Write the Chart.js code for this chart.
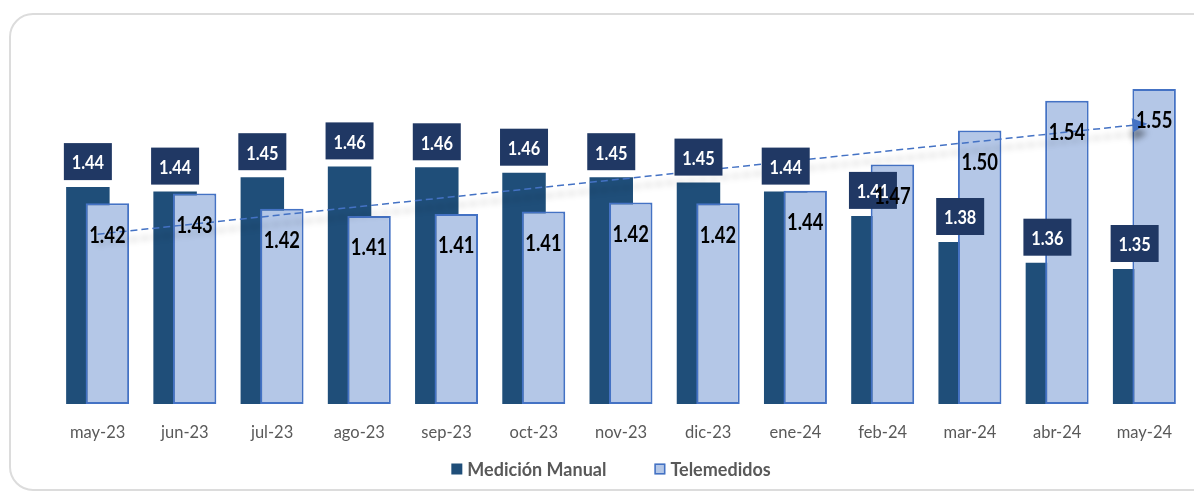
<!DOCTYPE html>
<html lang="es">
<head>
<meta charset="utf-8">
<title>Medición Manual vs Telemedidos</title>
<script src="https://cdn.jsdelivr.net/npm/chart.js@4.4.1/dist/chart.umd.min.js"></script>
<style>
    html, body { margin: 0; padding: 0; background: #fff; overflow: hidden; }
    .wrap { position: relative; width: 1194px; height: 492px; overflow: hidden; }
    .card { position: absolute; left: 9px; top: 13px; width: 1230px; height: 478px;
            border: 2px solid #dcdcdc; border-radius: 24px; box-sizing: border-box; }
    #grafico { position: absolute; left: 0; top: 0; }
</style>
</head>
<body>
<div class="wrap">
    <div class="card"></div>
    <canvas id="grafico" width="1194" height="492"></canvas>
</div>
<script>
    "use strict";

    // Datos
    const meses = ["may-23", "jun-23", "jul-23", "ago-23", "sep-23", "oct-23", "nov-23",
                   "dic-23", "ene-24", "feb-24", "mar-24", "abr-24", "may-24"];
    const manual = [1.441, 1.436, 1.452, 1.464, 1.463, 1.457, 1.452, 1.446, 1.436, 1.409, 1.380, 1.357, 1.350];
    const tele = [1.423, 1.434, 1.417, 1.409, 1.411, 1.414, 1.424, 1.423, 1.437, 1.466, 1.504, 1.537, 1.550];
    const series = ["Medición Manual", "Telemedidos"];

    // Colores
    const azulOscuro = "#1F4E79";
    const azulCaja = "#203864";
    const azulClaro = "#B4C7E7";
    const azulBorde = "#4472C4";
    const gris = "#595959";

    // Línea de tendencia (mínimos cuadrados sobre Telemedidos)
    function tendencia(valores) {
        var n = valores.length, sx = 0, sy = 0, sxy = 0, sxx = 0;
        valores.forEach(function (v, i) { sx += i; sy += v; sxy += i * v; sxx += i * i; });
        var m = (n * sxy - sx * sy) / (n * sxx - sx * sx);
        var b = (sy - m * sx) / n;
        return valores.map(function (v, i) { return b + m * i; });
    }
    const trend = tendencia(tele);

    // Texto comprimido horizontalmente, centrado en (x, y)
    function texto(ctx, t, x, y, size, color, sx) {
        ctx.save();
        ctx.translate(x, y + size * 0.36);
        ctx.scale(sx, 1);
        ctx.font = "bold " + size + "px Lato";
        ctx.fillStyle = color;
        ctx.textAlign = "center";
        ctx.textBaseline = "alphabetic";
        ctx.fillText(t, 0, 0);
        ctx.restore();
    }

    // Plugin: orden de dibujo, flecha, etiquetas y leyenda
    const extras = {
        id: "extras",
        beforeDatasetDraw: function (chart, args) {
            if (args.index === 1) return false; // Telemedidos va encima de Medición Manual
            if (args.index === 2) {
                var ctx = chart.ctx;
                ctx.save();
                ctx.shadowColor = "rgba(0, 0, 0, 0.38)";
                ctx.shadowBlur = 6;
                ctx.shadowOffsetY = 9;
            }
        },
        afterDatasetDraw: function (chart, args) {
            var ctx = chart.ctx;
            if (args.index === 0) {
                chart.getDatasetMeta(1).controller.draw();
            }
            if (args.index === 2) {
                var pts = args.meta.data;
                var a = pts[pts.length - 2], b = pts[pts.length - 1];
                var ang = Math.atan2(b.y - a.y, b.x - a.x);
                ctx.translate(b.x, b.y);
                ctx.rotate(ang);
                ctx.beginPath();
                ctx.moveTo(3, 0);
                ctx.lineTo(-12, -7);
                ctx.lineTo(-12, 7);
                ctx.closePath();
                ctx.fillStyle = azulBorde;
                ctx.fill();
                ctx.restore();
            }
        },
        afterDatasetsDraw: function (chart) {
            var ctx = chart.ctx;
            var mMeta = chart.getDatasetMeta(0);
            var tMeta = chart.getDatasetMeta(1);

            // Cajas de Medición Manual
            mMeta.data.forEach(function (bar, i) {
                var bw = 48, bh = 37;
                var top = bar.y - 7 - bh;
                ctx.fillStyle = azulCaja;
                ctx.fillRect(bar.x - bw / 2, top, bw, bh);
                texto(ctx, manual[i].toFixed(2), bar.x, top + bh / 2 + 1, 19, "#fff", 0.86);
            });

            // Valores de Telemedidos
            tMeta.data.forEach(function (bar, i) {
                texto(ctx, tele[i].toFixed(2), bar.x, bar.y + 31, 23, "#000", 0.8);
            });

            // Leyenda
            ctx.save();
            ctx.font = "bold 18px Lato";
            ctx.textBaseline = "alphabetic";
            ctx.textAlign = "left";
            var caja = 11, sep = 5, hueco = 48;
            var anchos = series.map(function (s) { return ctx.measureText(s).width; });
            var total = caja * 2 + sep * 2 + anchos[0] + anchos[1] + hueco;
            var x = 611 - total / 2;
            series.forEach(function (s, i) {
                if (i === 0) {
                    ctx.fillStyle = azulOscuro;
                    ctx.fillRect(x, 463.5, caja, caja);
                } else {
                    ctx.fillStyle = azulClaro;
                    ctx.fillRect(x, 463.5, caja, caja);
                    ctx.strokeStyle = azulBorde;
                    ctx.lineWidth = 1.5;
                    ctx.strokeRect(x + 0.75, 464.25, caja - 1.5, caja - 1.5);
                }
                ctx.fillStyle = gris;
                ctx.fillText(s, x + caja + sep, 476);
                x += caja + sep + anchos[i] + hueco;
            });
            ctx.restore();
        }
    };

    // Gráfico
    var ctx = document.getElementById("grafico").getContext("2d");
    var myChart = new Chart(ctx, {
        type: "bar",
        data: {
            labels: meses,
            datasets: [{
                    label: series[0],
                    data: manual,
                    base: 1.2,
                    backgroundColor: azulOscuro,
                    borderWidth: 0,
                    categoryPercentage: 0.447,
                    barPercentage: 2.23
                },
                {
                    label: series[1],
                    data: tele,
                    base: 1.2,
                    backgroundColor: azulClaro,
                    borderColor: azulBorde,
                    borderWidth: 2,
                    borderSkipped: false,
                    categoryPercentage: 0.447,
                    barPercentage: 2.23
                },
                {
                    type: "line",
                    label: "Tendencia",
                    data: trend,
                    order: -1,
                    borderColor: azulBorde,
                    borderWidth: 1.5,
                    borderDash: [7, 4],
                    pointRadius: 0,
                    fill: false
                }
            ]
        },
        options: {
            responsive: false,
            animation: false,
            layout: {
                padding: { left: 54, right: 6, top: 44, bottom: 0 }
            },
            scales: {
                x: {
                    grid: { display: false },
                    border: { display: false },
                    ticks: {
                        color: gris,
                        font: { family: "Lato", size: 16.5 },
                        padding: 11,
                        maxRotation: 0
                    },
                    afterFit: function (s) { s.height = 88; }
                },
                y: {
                    display: false,
                    min: 1.2,
                    max: 1.6
                }
            },
            plugins: {
                legend: { display: false },
                tooltip: { enabled: false }
            }
        },
        plugins: [extras]
    });
</script>
</body>
</html>
